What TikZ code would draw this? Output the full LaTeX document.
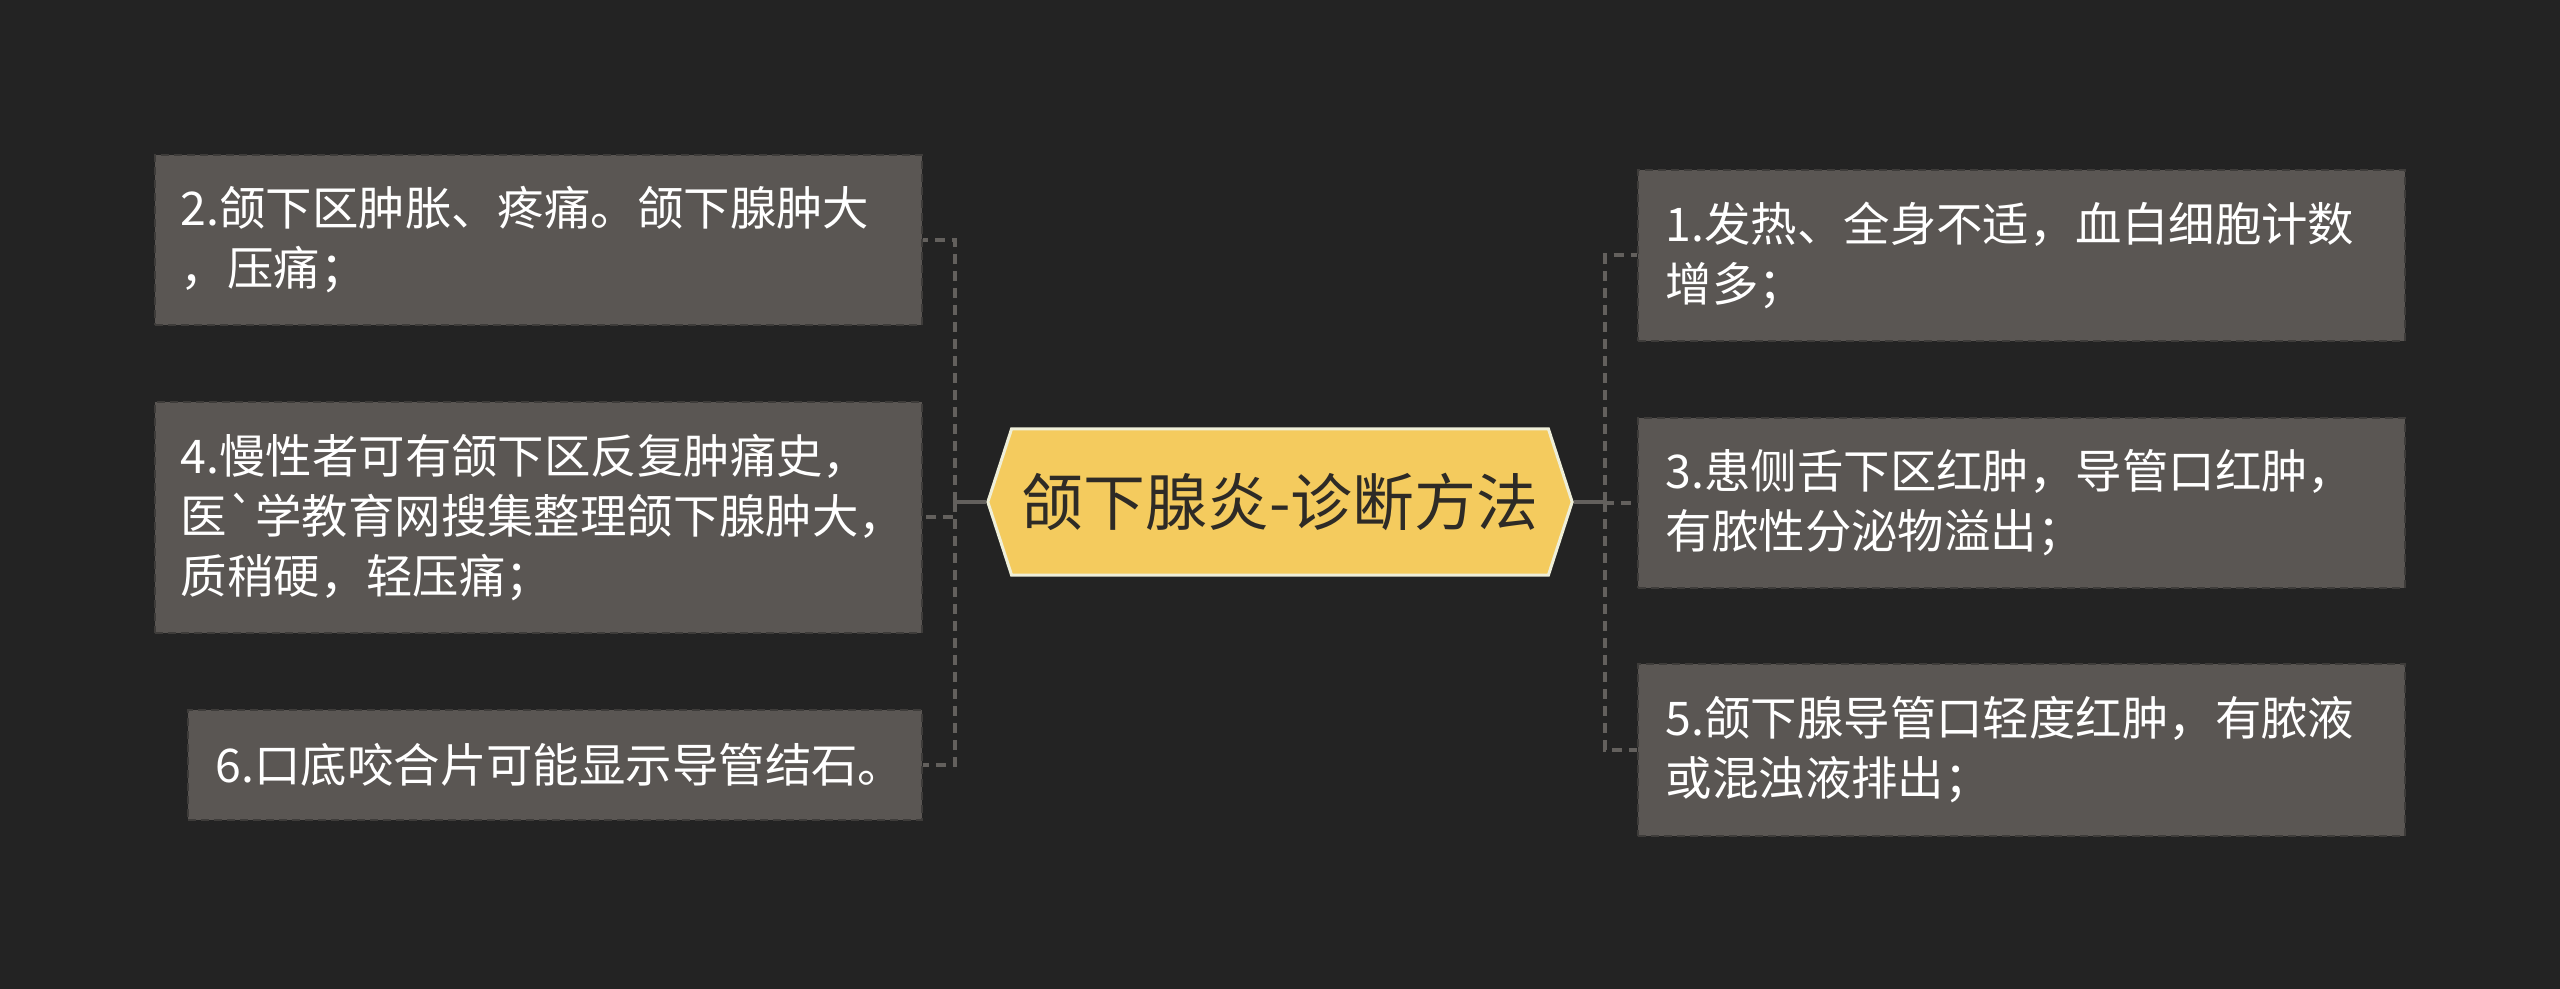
\documentclass[tikz,border=0pt]{standalone}
\usepackage{fontspec}
\setmainfont{Noto Sans CJK SC}
\font\gravefont="Noto Sans CJK SC" at 13.2pt
\usetikzlibrary{shapes.symbols}
\definecolor{bgdark}{HTML}{232323}
\definecolor{boxfill}{HTML}{5A5653}
\definecolor{boxedge}{HTML}{3E3C3A}
\definecolor{linkgray}{HTML}{63605D}
\definecolor{titlefill}{HTML}{F4CB5E}
\definecolor{titleedge}{HTML}{EFEFD9}
\definecolor{titletext}{HTML}{2E2B26}
\begin{document}
\begin{tikzpicture}[x=0.01cm, y=-0.01cm,
  title/.style={signal, signal to=west and east, signal pointer angle=144,
    fill=titlefill, draw=titleedge, line width=0.03cm, text=titletext,
    minimum width=5.84cm, minimum height=1.46cm, inner sep=0pt,
    font=\fontsize{17.6}{20}\selectfont},
  item/.style={fill=boxfill, draw=boxedge, line width=0.02cm,
    dash pattern=on 0.08cm off 0.05cm, text=white, align=left,
    inner xsep=0.26cm, text width=#1, font=\fontsize{13.2}{17.1}\selectfont},
  hub/.style={draw=linkgray, line width=0.04cm},
  link/.style={hub, dash pattern=on 0.1cm off 0.07cm}]
\fill[bgdark] (0,0) rectangle (2560,989);
\useasboundingbox (0,0) rectangle (2560,989);
% centre
\node[title] (title) at (1280,502) {颌下腺炎-诊断方法};
% left side
\node[item=7.15cm, minimum height=1.70cm] (swelling) at (538.5,240) {2.颌下区肿胀、疼痛。颌下腺肿大\\，压痛；};
\node[item=7.15cm, minimum height=2.31cm] (chronic) at (538.5,517.5) {4.慢性者可有颌下区反复肿痛史，\\医{\gravefont`}学教育网搜集整理颌下腺肿大，\\质稍硬，轻压痛；};
\node[item=6.78cm, inner xsep=0.28cm, minimum height=1.10cm] (stone) at (555,765) {6.口底咬合片可能显示导管结石。};
% right side
\node[item=7.11cm, inner xsep=0.28cm, minimum height=1.71cm] (fever) at (2021.5,255.5) {1.发热、全身不适，血白细胞计数\\增多；};
\node[item=7.11cm, inner xsep=0.28cm, minimum height=1.70cm] (duct) at (2021.5,503) {3.患侧舌下区红肿，导管口红肿，\\有脓性分泌物溢出；};
\node[item=7.11cm, inner xsep=0.28cm, minimum height=1.72cm] (pus) at (2021.5,750) {5.颌下腺导管口轻度红肿，有脓液\\或混浊液排出；};
% connectors
\coordinate (lhub) at (955,502);
\coordinate (rhub) at (1605,502);
\draw[hub] (title.west) -- (lhub);
\draw[hub] (title.east) -- (rhub);
\draw[link] (lhub) |- (swelling.east);
\draw[link] (lhub) |- (chronic.east);
\draw[link] (lhub) |- (stone.east);
\draw[link] (rhub) |- (fever.west);
\draw[link] (rhub) |- (duct.west);
\draw[link] (rhub) |- (pus.west);
\end{tikzpicture}
\end{document}
